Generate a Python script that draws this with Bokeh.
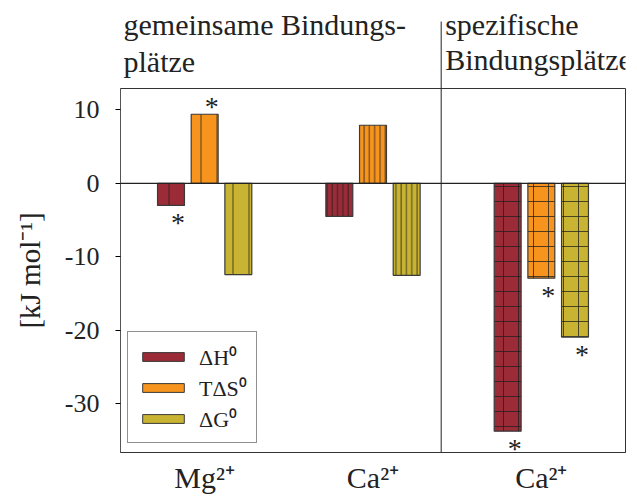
from bokeh.plotting import figure
from bokeh.layouts import column
from bokeh.models import (ColumnDataSource, FixedTicker, Span, Label, Legend,
                          LegendItem, Range1d)
from bokeh.embed import file_html
from bokeh.resources import INLINE

# Thermodynamic parameters of ion binding, kJ/mol
groups = ["Mg²⁺", "Ca²⁺", "Ca²⁺"]
dH = [-3.0, -4.5, -33.7]
TdS = [9.4, 7.9, -12.9]
dG = [-12.4, -12.5, -20.9]
# significance marks per bar
sig_dH = [1, 0, 1]
sig_TdS = [1, 0, 1]
sig_dG = [0, 0, 1]
y_ticks = [-30, -20, -10, 0, 10]

series_names = ["ΔH⁰", "TΔS⁰", "ΔG⁰"]
series_vals = [dH, TdS, dG]
series_sig = [sig_dH, sig_TdS, sig_dG]
colors = ["#9B2B36", "#F7941D", "#C8B432"]
offsets = [-0.2, 0.0, 0.2]
bar_w = 0.16

# hatch per group: sparse stripes, dense stripes, grid
hatch_pattern = ["vertical_line", "vertical_line", "cross"]
hatch_scale = [16, 5.3, 15]

SERIF = "Liberation Serif"
INK = "#222222"

x_range = Range1d(0.5, 3.5)
y_lo, y_hi = -36.6, 12.9
x_div = 2.405

# ---- header strip with the two site descriptions ----
head = figure(width=637, height=88, x_range=x_range, y_range=(0, 88),
              output_backend="svg", toolbar_location=None,
              min_border_left=120, min_border_right=12,
              min_border_top=0, min_border_bottom=0)
head.axis.visible = False
head.grid.visible = False
head.outline_line_color = None
head.border_fill_color = "white"

head.text(x=[0.5, 0.5], y=[64, 27], text=["gemeinsame Bindungs-", "plätze"],
          x_offset=3, text_font=SERIF, text_font_size="30px",
          text_baseline="alphabetic", text_align="left", text_color=INK)
head.text(x=[x_div, x_div], y=[64, 29], text=["spezifische", "Bindungsplätze"],
          x_offset=4, text_font=SERIF, text_font_size="30px",
          text_baseline="alphabetic", text_align="left", text_color=INK)
head.segment(x0=[x_div], y0=[0], x1=[x_div], y1=[67], line_color=INK,
             line_width=1)

# ---- main bar chart ----
p = figure(width=637, height=411, x_range=x_range, y_range=(y_lo, y_hi),
           output_backend="svg", toolbar_location=None,
           min_border_left=120, min_border_right=12,
           min_border_top=0, min_border_bottom=47)
p.grid.visible = False
p.outline_line_color = "#333333"
p.outline_line_width = 1
p.background_fill_color = "white"
p.border_fill_color = "white"

# bars, one renderer per (series, group) so each group gets its hatch
for s, (vals, col) in enumerate(zip(series_vals, colors)):
    for g in range(len(groups)):
        src = ColumnDataSource(dict(x=[g + 1 + offsets[s]], top=[vals[g]]))
        p.vbar(x="x", top="top", bottom=0, width=bar_w, source=src,
               fill_color=col, line_color="#3a3a3a", line_width=1.2,
               hatch_pattern=hatch_pattern[g], hatch_scale=hatch_scale[g],
               hatch_color="#1e1e1e", hatch_weight=1, hatch_alpha=0.75)

# significance asterisks beyond the bar ends
for s, (vals, sig) in enumerate(zip(series_vals, series_sig)):
    for g in range(len(groups)):
        if not sig[g]:
            continue
        v = vals[g]
        p.add_layout(Label(x=g + 1 + offsets[s], y=v, x_offset=7,
                           y_offset=(-17 if v < 0 else 8),
                           text="*", text_font=SERIF, text_font_size="28px",
                           text_align="center", text_baseline="alphabetic",
                           text_color=INK))

p.add_layout(Span(location=0, dimension="width", line_color=INK,
                  line_width=1.2))
p.segment(x0=[x_div], y0=[y_lo], x1=[x_div], y1=[y_hi], line_color=INK,
          line_width=1)

# legend with plain colour swatches (off-screen proxies)
legend_items = []
for name, col in zip(series_names, colors):
    r = p.vbar(x=[-10], top=[1], width=0.1, fill_color=col,
               line_color="#3a3a3a")
    legend_items.append(LegendItem(label=name, renderers=[r]))
legend = Legend(items=legend_items, location=(7, 9), orientation="vertical",
                glyph_width=52, glyph_height=11, label_standoff=10,
                label_text_font=SERIF, label_text_font_size="22px",
                label_text_color=INK, label_height=20, spacing=1,
                padding=9, margin=0,
                border_line_color=INK, border_line_width=1,
                background_fill_alpha=1)
p.add_layout(legend)

# axes
p.yaxis.ticker = FixedTicker(ticks=y_ticks)
p.yaxis.major_label_overrides = {t: str(t) for t in y_ticks}
p.yaxis.minor_tick_line_color = None
p.yaxis.major_tick_in = 0
p.yaxis.major_tick_out = 5
p.yaxis.major_label_standoff = 16
p.yaxis.major_label_text_font = SERIF
p.yaxis.major_label_text_font_size = "26px"
p.yaxis.major_label_text_color = INK
p.yaxis.axis_label = "[kJ mol⁻¹]"
p.yaxis.axis_label_text_font = SERIF
p.yaxis.axis_label_text_font_size = "29px"
p.yaxis.axis_label_text_font_style = "normal"
p.yaxis.axis_label_text_color = INK
p.yaxis.axis_label_standoff = 16
p.yaxis.axis_line_color = "#555555"

p.xaxis.ticker = FixedTicker(ticks=[1, 2, 3])
p.xaxis.major_label_overrides = {i + 1: g for i, g in enumerate(groups)}
p.xaxis.minor_tick_line_color = None
p.xaxis.major_tick_line_color = None
p.xaxis.major_tick_out = 0
p.xaxis.major_tick_in = 0
p.xaxis.major_label_standoff = 8
p.xaxis.major_label_text_font = SERIF
p.xaxis.major_label_text_font_size = "30px"
p.xaxis.major_label_text_color = INK
p.xaxis.axis_line_color = "#333333"

layout = column(head, p, spacing=0)
open("out.html", "w").write(file_html(layout, INLINE))
